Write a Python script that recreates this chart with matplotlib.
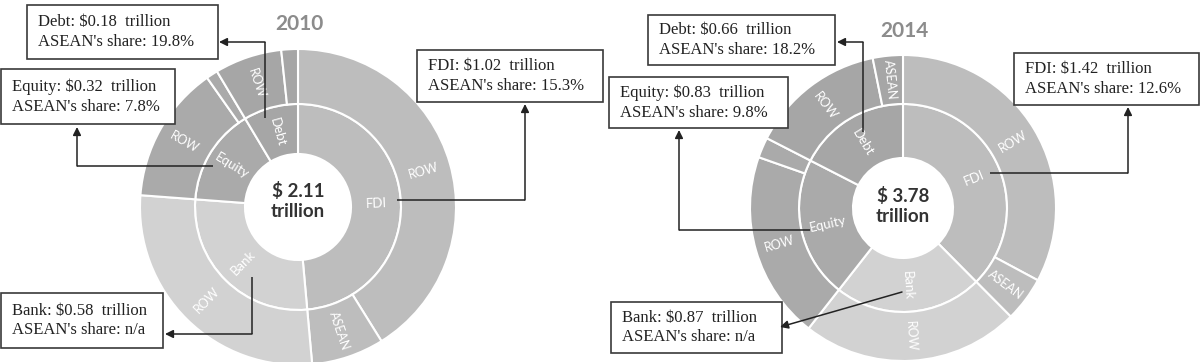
"""
Sunburst of ASEAN portfolio/FDI liabilities, 2010 vs 2014
"""

import matplotlib.pyplot as plt
import numpy as np
from matplotlib.patches import Rectangle

# =============================================================================
# DATA
# =============================================================================

years = ['2010', '2014']
categories = ['FDI', 'Bank', 'Equity', 'Debt']
totals_2010 = [1.02, 0.58, 0.32, 0.18]  # $ trillion
totals_2014 = [1.42, 0.87, 0.83, 0.66]  # $ trillion
share_2010 = [15.3, None, 7.8, 19.8]  # ASEAN's share, %
share_2014 = [12.6, None, 9.8, 18.2]  # ASEAN's share, %
grand_totals = [2.11, 3.78]
outer_labels_2010 = ['ROW', 'ASEAN', 'ROW', 'ROW', '', 'ROW', '']
outer_labels_2014 = ['ROW', 'ASEAN', 'ROW', 'ROW', '', 'ROW', 'ASEAN']

# =============================================================================
# STYLE / LAYOUT (pixels, y from top)
# =============================================================================

W, H = 1203, 362
cat_colors = {'FDI': '#bdbdbd', 'Bank': '#d2d2d2', 'Equity': '#aaaaaa', 'Debt': '#a6a6a6'}
serif = 'Liberation Serif'
sans = 'Lato'

layout = {
    '2010': dict(center=(298, 207), radii=(53, 103, 158), title=(299, 24), ctext=(299, 201),
                 boxes=[(417, 50, 603, 102), (1, 293, 163, 348), (1, 69, 175, 124), (27, 5, 218, 59)],
                 arrows=[[(397, 200), (525, 200), (525, 104)],
                         [(252, 277), (252, 334), (165, 334)],
                         [(213, 166), (77, 166), (77, 127)],
                         [(265, 118), (265, 42), (219, 42)]]),
    '2014': dict(center=(903, 208), radii=(50, 104, 153), title=(904, 31), ctext=(903, 206),
                 boxes=[(1014, 53, 1199, 105), (611, 302, 782, 353), (609, 77, 788, 128), (648, 15, 835, 65)],
                 arrows=[[(990, 173), (1128, 173), (1128, 107)],
                         [(902, 292), (780, 327)],
                         [(810, 230), (679, 230), (679, 130)],
                         [(863, 132), (863, 42), (837, 42)]]),
}


def Y(y):
    return H - y


def label_ring(ax, wedges, labels, cx, cy, r, size):
    for w, lab in zip(wedges, labels):
        if not lab:
            continue
        mid = 0.5*(w.theta1 + w.theta2)
        x = cx + r*np.cos(np.deg2rad(mid))
        y = cy + r*np.sin(np.deg2rad(mid))
        rot = ((mid + 90.) % 180.) - 90.
        ax.text(x, y, lab, color='white', fontsize=size, family=sans,
                rotation=rot, rotation_mode='anchor', ha='center', va='center')


# =============================================================================
# PLOT
# =============================================================================

fig = plt.figure(figsize=(W/100., H/100.), dpi=100)
ax = fig.add_axes([0, 0, 1, 1])

data = {'2010': (totals_2010, share_2010, outer_labels_2010),
        '2014': (totals_2014, share_2014, outer_labels_2014)}

for year, grand in zip(years, grand_totals):
    totals, shares, outer_labels = data[year]
    L = layout[year]
    cx, cy = L['center'][0], Y(L['center'][1])
    r0, r1, r2 = L['radii']

    # Outer ring: ROW then ASEAN within each category
    outer_vals, outer_cols = [], []
    for cat, v, s in zip(categories, totals, shares):
        if s is None:
            outer_vals.append(v)
            outer_cols.append(cat_colors[cat])
        else:
            outer_vals += [v*(1. - s/100.), v*s/100.]
            outer_cols += [cat_colors[cat]]*2

    wp = dict(edgecolor='white', linewidth=1.5)
    w_in, _ = ax.pie(totals, radius=r1, center=(cx, cy), startangle=90, counterclock=False,
                     colors=[cat_colors[c] for c in categories],
                     wedgeprops=dict(width=r1 - r0, **wp))
    w_out, _ = ax.pie(outer_vals, radius=r2, center=(cx, cy), startangle=90, counterclock=False,
                      colors=outer_cols, wedgeprops=dict(width=r2 - r1, **wp))

    label_ring(ax, w_in, categories, cx, cy, 0.5*(r0 + r1), 9.5)
    label_ring(ax, w_out, outer_labels, cx, cy, 0.5*(r1 + r2), 9)

    # Centre and title
    ax.text(cx, Y(L['ctext'][1]), '\\$ %.2f\ntrillion' % grand, ha='center', va='center',
            fontsize=13.5, fontweight='bold', family=sans, color='#333333', linespacing=1.15)
    ax.text(L['title'][0], Y(L['title'][1]), year, ha='center', va='center',
            fontsize=15, fontweight='bold', family=sans, color='#8c8c8c')

    # Callout boxes
    for cat, v, s, box, path in zip(categories, totals, shares, L['boxes'], L['arrows']):
        x0, y0, x1, y1 = box
        ax.add_patch(Rectangle((x0, Y(y1)), x1 - x0, y1 - y0, facecolor='white',
                               edgecolor='#3a3a3a', linewidth=1.2, zorder=3))
        stxt = 'n/a' if s is None else '%.1f%%' % s
        ax.text(x0 + 11, Y(0.5*(y0 + y1)), '%s: \\$%.2f  trillion\nASEAN\'s share: %s' % (cat, v, stxt),
                ha='left', va='center', fontsize=12, family=serif, color='#222222',
                linespacing=1.3, zorder=4)
        pts = np.array(path, dtype=float)
        if len(pts) > 2:
            ax.plot(pts[:-1, 0], H - pts[:-1, 1], color='#222222', lw=1.1, zorder=5,
                    solid_capstyle='butt')
        ax.annotate('', xy=(pts[-1, 0], H - pts[-1, 1]), xytext=(pts[-2, 0], H - pts[-2, 1]),
                    arrowprops=dict(arrowstyle='-|>', color='#222222', lw=1.1,
                                    shrinkA=0, shrinkB=0, mutation_scale=12), zorder=5)

ax.set_xlim(0, W)
ax.set_ylim(0, H)
ax.set_aspect('auto')
ax.axis('off')

plt.savefig('out.png', dpi=100)
